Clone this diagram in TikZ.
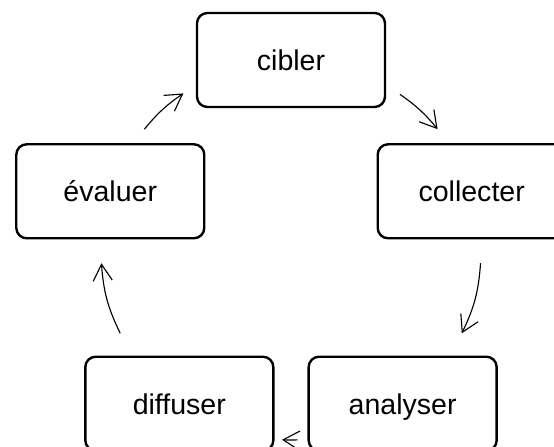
\documentclass[tikz,border=0pt]{standalone}
\usepackage{fontspec}
\setmainfont{Liberation Sans}
\usetikzlibrary{arrows.meta,positioning,calc}

\tikzset{
  stage/.style={draw,line width=1.7pt,rounded corners=0.26cm,
    minimum width=4.7cm,minimum height=2.35cm,
    text height=14.8pt,text depth=0pt,
    font=\fontsize{20.3}{24}\selectfont},
  cyc/.style={line width=0.8pt,-{Straight Barb[length=4.1mm,width=4.8mm]}}
}

\begin{document}
\begin{tikzpicture}
            \useasboundingbox (-7.275,-4.925) rectangle (6.575,6.25);

            % Stages on the ring
            \node[stage] (cibler) at (90:4.75) {cibler};
            \node[stage] (collecter) at (18:4.75) {collecter};
            \node[stage] (analyser) at (-54:4.75) {analyser};
            \node[stage] (diffuser) at (-126:4.75) {diffuser};
            \node[stage] (evaluer) at (162:4.75) {évaluer};

            % Arrow ends on the ring
            \coordinate (cibOut) at (55:4.75);
            \coordinate (colIn) at (39.5:4.75);
            \coordinate (colOut) at (-4:4.75);
            \coordinate (anaIn) at (-26:4.75);
            \coordinate (anaOut) at (-88:4.75);
            \coordinate (difIn) at (-92.7:4.75);
            \coordinate (difOut) at (206:4.75);
            \coordinate (evaIn) at (184:4.75);
            \coordinate (evaOut) at (140.5:4.75);
            \coordinate (cibIn) at (124.5:4.75);

            % Arcs between the stages
            \draw[cyc] (cibOut) to[bend left=7.75] (colIn);
            \draw[cyc] (colOut) to[bend left=11] (anaIn);
            \draw[cyc] (anaOut) to[bend left=2.35] (difIn);
            \draw[cyc] (difOut) to[bend left=11] (evaIn);
            \draw[cyc] (evaOut) to[bend left=8] (cibIn);

\end{tikzpicture}
\end{document}
